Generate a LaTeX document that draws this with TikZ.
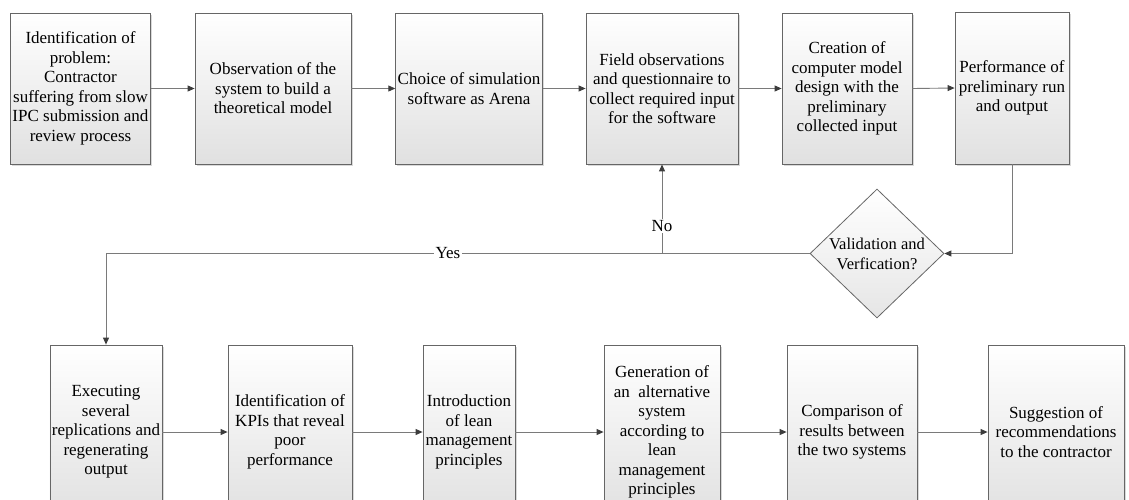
\documentclass[tikz,border=0pt]{standalone}
\usepackage{fontspec}
\setmainfont{Liberation Serif}
\usetikzlibrary{shapes.geometric,arrows.meta,shadows}
\definecolor{edge}{HTML}{666666}
\definecolor{wire}{HTML}{7A7A7A}
\definecolor{tip}{HTML}{3C3C3C}
\begin{document}
\begin{tikzpicture}[x=1pt,y=-1pt,
  stepbox/.style={draw=edge, line width=0.8pt, top color=white, bottom color=black!12,
    align=center, inner sep=2pt, font=\fontsize{17}{19.5}\selectfont,
    drop shadow={shadow xshift=1.6pt, shadow yshift=-1.6pt, fill=black, opacity=0.15}},
  decision/.style={diamond, draw=edge, line width=0.8pt, top color=white, bottom color=black!10,
    inner sep=0pt, minimum width=134pt, minimum height=129pt},
  dtext/.style={align=center, font=\fontsize{16.5}{20}\selectfont},
  arr/.style={draw=wire, line width=0.9pt, -{Triangle[length=7pt,width=6pt,color=tip]}},
  wireline/.style={draw=wire, line width=0.9pt},
  lbl/.style={fill=white, inner sep=1.5pt, font=\fontsize{17}{19.5}\selectfont}
]
\useasboundingbox (0,0) rectangle (1129,499);
\clip (0,0) rectangle (1129,499);

% upper row
\node[stepbox, minimum width=139pt, minimum height=151pt] (s1) at (80.5,88.5)
  {Identification of\\problem:\\Contractor\\suffering from slow\\IPC submission and\\review process};
\node[stepbox, minimum width=156pt, minimum height=151pt] (s2) at (273,88.5)
  {Observation of the\\system to build a\\theoretical model};
\node[stepbox, minimum width=146pt, minimum height=151pt] (s3) at (469,88.5)
  {Choice of simulation\\software as Arena};
\node[stepbox, minimum width=152pt, minimum height=151pt] (s4) at (662,88.5)
  {Field observations\\and questionnaire to\\collect required input\\for the software};
\node[stepbox, minimum width=130pt, minimum height=151pt] (s5) at (847,88.5)
  {Creation of\\computer model\\design with the\\preliminary\\collected input};
\node[stepbox, minimum width=114pt, minimum height=152pt] (s6) at (1012,88)
  {Performance of\\preliminary run\\and output};

% decision
\node[decision] (dec) at (877,253.5) {};
\node[dtext] (dectext) at (dec.center) {Validation and\\Verfication?};

% lower row
\node[stepbox, minimum width=112pt, minimum height=174pt] (s7) at (106,432)
  {Executing\\several\\replications and\\regenerating\\output};
\node[stepbox, minimum width=124pt, minimum height=174pt] (s8) at (290,432)
  {Identification of\\KPIs that reveal\\poor\\performance};
\node[stepbox, minimum width=92pt, minimum height=174pt] (s9) at (469,432)
  {Introduction\\of lean\\management\\principles};
\node[stepbox, minimum width=116pt, minimum height=174pt] (s10) at (662,432)
  {Generation of\\an~ alternative\\system\\according to\\lean\\management\\principles};
\node[stepbox, minimum width=130pt, minimum height=174pt] (s11) at (852,432)
  {Comparison of\\results between\\the two systems};
\node[stepbox, minimum width=136pt, minimum height=174pt] (s12) at (1056,432)
  {Suggestion of\\recommendations\\to the contractor};

% upper flow
\draw[arr] (s1.east) -- (s2.west);
\draw[arr] (s2.east) -- (s3.west);
\draw[arr] (s3.east) -- (s4.west);
\draw[arr] (s4.east) -- (s5.west);
\draw[arr] (s5.east) -- (s6.west);

% into and out of the decision
\draw[arr] (s6.south) |- (dec.east);
\draw[arr] (dec.west) -| node[lbl, pos=0.257] {Yes} (s7.north);
\coordinate (junc) at (dec.west -| s4.south);
\draw[arr] (junc) -- node[lbl, pos=0.31] {No} (s4.south);

% lower flow
\draw[arr] (s7.east) -- (s8.west);
\draw[arr] (s8.east) -- (s9.west);
\draw[arr] (s9.east) -- (s10.west);
\draw[arr] (s10.east) -- (s11.west);
\draw[arr] (s11.east) -- (s12.west);
\end{tikzpicture}
\end{document}
